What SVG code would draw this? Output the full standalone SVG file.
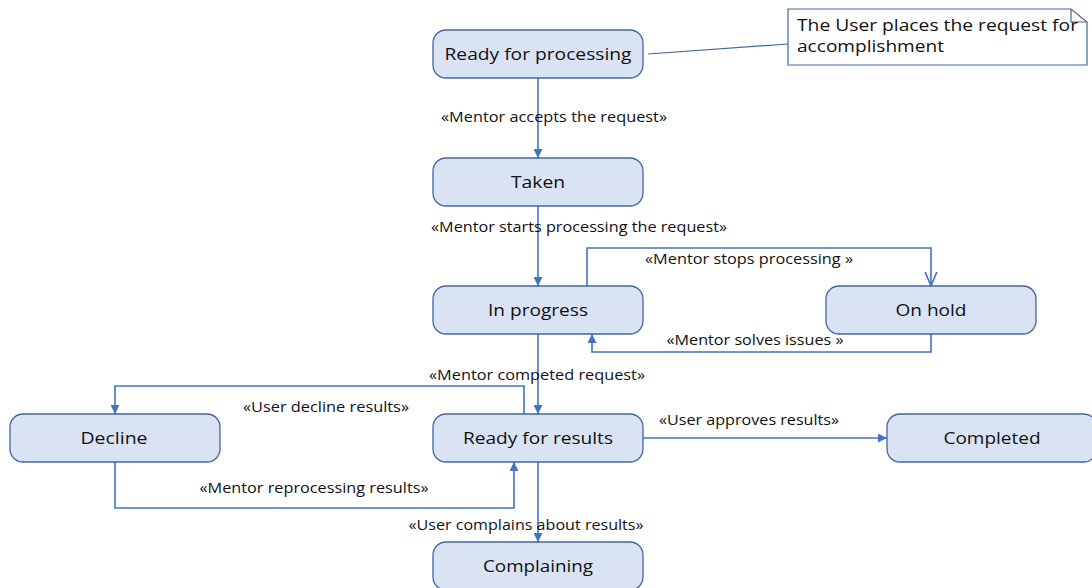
<svg xmlns="http://www.w3.org/2000/svg" width="1092" height="588" viewBox="0 0 1092 588">
<style>
.node rect{fill:#dae3f3;stroke:#41669f;stroke-width:1.3}
.node text{font-family:"Open Sans","DejaVu Sans",sans-serif;font-size:16px;fill:#111;text-anchor:middle;dominant-baseline:central}
.lbl{font-family:"Open Sans","DejaVu Sans",sans-serif;font-size:14px;fill:#111;text-anchor:middle;dominant-baseline:central}
.c{fill:none;stroke:#4472c4;stroke-width:1.6}
.note{fill:#fff;stroke:#41669f;stroke-width:1.2}
.ntxt{font-family:"Open Sans","DejaVu Sans",sans-serif;font-size:16px;fill:#111}
</style>
<defs>
<marker id="a" viewBox="0 0 10 10" refX="10" refY="5" markerWidth="9" markerHeight="9" markerUnits="userSpaceOnUse" orient="auto"><path d="M0,0 L10,5 L0,10 z" fill="#4472c4"/></marker>
<marker id="o" viewBox="0 0 12 12" refX="12" refY="6" markerWidth="14" markerHeight="14" markerUnits="userSpaceOnUse" orient="auto"><path d="M0,1 L12,6 L0,11" fill="none" stroke="#4472c4" stroke-width="1.4"/></marker>
</defs>
<rect width="1092" height="588" fill="#fff"/>
<g id="connectors">
<line class="c" x1="538" y1="78" x2="538" y2="158" marker-end="url(#a)"/>
<line class="c" x1="538" y1="206" x2="538" y2="286" marker-end="url(#a)"/>
<polyline class="c" points="587,286 587,248 931,248 931,286" marker-end="url(#o)"/>
<polyline class="c" points="931,334 931,352 592,352 592,334" marker-end="url(#a)"/>
<line class="c" x1="538" y1="334" x2="538" y2="414" marker-end="url(#a)"/>
<polyline class="c" points="524,414 524,386 115,386 115,414" marker-end="url(#a)"/>
<polyline class="c" points="115,462 115,508 514,508 514,462" marker-end="url(#a)"/>
<line class="c" x1="643" y1="438" x2="887" y2="438" marker-end="url(#a)"/>
<line class="c" x1="538" y1="462" x2="538" y2="542" marker-end="url(#a)"/>
<line x1="648" y1="54" x2="788" y2="44" stroke="#41669f" stroke-width="1.2"/>
<text class="lbl" x="554" y="116" textLength="226" lengthAdjust="spacingAndGlyphs">«Mentor accepts the request»</text>
<text class="lbl" x="579" y="226" textLength="296" lengthAdjust="spacingAndGlyphs">«Mentor starts processing the request»</text>
<text class="lbl" x="749" y="258" textLength="208" lengthAdjust="spacingAndGlyphs">«Mentor stops processing »</text>
<text class="lbl" x="755" y="339" textLength="177" lengthAdjust="spacingAndGlyphs">«Mentor solves issues »</text>
<text class="lbl" x="537" y="374" textLength="216" lengthAdjust="spacingAndGlyphs">«Mentor competed request»</text>
<text class="lbl" x="326" y="406" textLength="166" lengthAdjust="spacingAndGlyphs">«User decline results»</text>
<text class="lbl" x="314" y="487" textLength="229" lengthAdjust="spacingAndGlyphs">«Mentor reprocessing results»</text>
<text class="lbl" x="749" y="419" textLength="180" lengthAdjust="spacingAndGlyphs">«User approves results»</text>
<text class="lbl" x="526" y="524" textLength="235" lengthAdjust="spacingAndGlyphs">«User complains about results»</text>
</g>
<g id="note">
<path class="note" d="M788,9 H1071 L1087,22 V65 H788 Z"/>
<path d="M1071,9 V22 H1087" fill="none" stroke="#41669f" stroke-width="1.2"/>
<text class="ntxt" x="797" y="31" textLength="281" lengthAdjust="spacingAndGlyphs">The User places the request for</text>
<text class="ntxt" x="797" y="52" textLength="147" lengthAdjust="spacingAndGlyphs">accomplishment</text>
</g>
<g id="ready-for-processing" class="node"><rect x="433" y="30" width="210" height="48" rx="13"/><text x="538" y="54" textLength="187" lengthAdjust="spacingAndGlyphs">Ready for processing</text></g>
<g id="taken" class="node"><rect x="433" y="158" width="210" height="48" rx="13"/><text x="538" y="182" textLength="54" lengthAdjust="spacingAndGlyphs">Taken</text></g>
<g id="in-progress" class="node"><rect x="433" y="286" width="210" height="48" rx="13"/><text x="538" y="310" textLength="100" lengthAdjust="spacingAndGlyphs">In progress</text></g>
<g id="on-hold" class="node"><rect x="826" y="286" width="210" height="48" rx="13"/><text x="931" y="310" textLength="71" lengthAdjust="spacingAndGlyphs">On hold</text></g>
<g id="decline" class="node"><rect x="10" y="414" width="210" height="48" rx="13"/><text x="114" y="438" textLength="67" lengthAdjust="spacingAndGlyphs">Decline</text></g>
<g id="ready-for-results" class="node"><rect x="433" y="414" width="210" height="48" rx="13"/><text x="538" y="438" textLength="150" lengthAdjust="spacingAndGlyphs">Ready for results</text></g>
<g id="completed" class="node"><rect x="887" y="414" width="210" height="48" rx="13"/><text x="992" y="438" textLength="97" lengthAdjust="spacingAndGlyphs">Completed</text></g>
<g id="complaining" class="node"><rect x="433" y="542" width="210" height="48" rx="13"/><text x="538" y="566" textLength="110" lengthAdjust="spacingAndGlyphs">Complaining</text></g>
</svg>
